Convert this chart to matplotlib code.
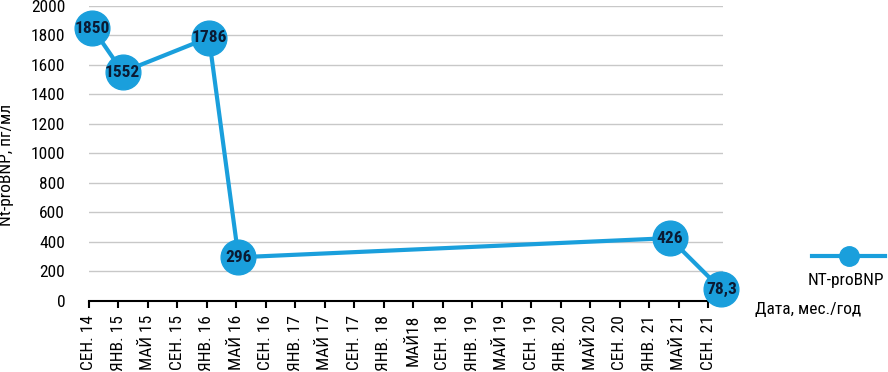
import matplotlib
matplotlib.use('Agg')
import matplotlib.pyplot as plt
from matplotlib.lines import Line2D
import numpy as np

plt.rcParams['font.family'] = ['Roboto Condensed', 'DejaVu Sans']
plt.rcParams['font.stretch'] = 'condensed'

# x positions in months counted from Sep 2014
months = [0.5, 4.6, 16.3, 20.3, 78.8, 85.8]
values = [1850, 1552, 1786, 296, 426, 78.3]
point_labels = ['1850', '1552', '1786', '296', '426', '78,3']
tick_labels = ['СЕН. 14', 'ЯНВ. 15', 'МАЙ 15', 'СЕН. 15', 'ЯНВ. 16', 'МАЙ 16',
               'СЕН. 16', 'ЯНВ. 17', 'МАЙ 17', 'СЕН. 17', 'ЯНВ. 18', 'МАЙ18',
               'СЕН. 18', 'ЯНВ. 19', 'МАЙ 19', 'СЕН. 19', 'ЯНВ. 20', 'МАЙ 20',
               'СЕН. 20', 'ЯНВ. 21', 'МАЙ 21', 'СЕН. 21']
yticks = np.arange(0, 2001, 200)
blue = '#1a9fdc'

fig = plt.figure(figsize=(8.88, 3.72), dpi=100)
ax = fig.add_axes([0.100, 0.191, 0.714, 0.793])

ax.plot(months, values, color=blue, lw=3, marker='o', ms=25,
        markerfacecolor=blue, markeredgecolor=blue, clip_on=False, zorder=3)
for xm, yv, s in zip(months, values, point_labels):
    ax.text(xm, yv, s, ha='center', va='center', fontsize=12.5,
            fontweight='bold', color='#0b1a33', zorder=4)

ax.set_xlim(0, 86)
ax.set_ylim(0, 2000)
ax.set_xticks(np.arange(0, 85, 4))
ax.set_xticklabels(tick_labels, rotation=90, fontsize=12.5)
ax.set_yticks(yticks)
ax.set_yticklabels([str(v) for v in yticks], fontsize=12.5)
ax.yaxis.grid(True, color='#c8c8c8', lw=1)
ax.set_axisbelow(True)
for s in ['top', 'right', 'left']:
    ax.spines[s].set_visible(False)
ax.spines['bottom'].set_linewidth(1.5)
ax.tick_params(axis='y', length=0, pad=17)
ax.tick_params(axis='x', length=5, width=1.5, direction='out', pad=5)
ax.set_ylabel('Nt-proBNP, пг/мл', fontsize=12.5)
ax.yaxis.set_label_coords(-0.118, 0.46)

handle = Line2D([], [], color=blue, lw=3, marker='o', ms=14)
ax.legend(handles=[handle], labels=[''], loc='center left',
          bbox_to_anchor=(1.1406, 0.149), frameon=False, handlelength=4.8,
          handletextpad=0, borderpad=0, borderaxespad=0, fontsize=11)
fig.text(0.953, 0.247, 'NT-proBNP', ha='center', va='center', fontsize=12.5)
fig.text(0.850, 0.167, 'Дата, мес./год', ha='left', va='center', fontsize=12.5)

fig.savefig('out.png', dpi=100)
